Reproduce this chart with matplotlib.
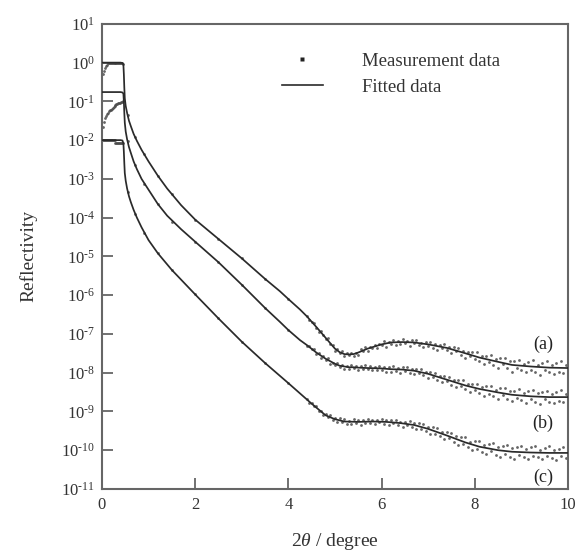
import numpy as np
import matplotlib
matplotlib.use('Agg')
import matplotlib.pyplot as plt
from matplotlib.ticker import FixedLocator, FuncFormatter, NullLocator
from matplotlib.lines import Line2D

plt.rcParams['font.family'] = ['Liberation Serif', 'DejaVu Serif']
plt.rcParams['mathtext.fontset'] = 'custom'
plt.rcParams['mathtext.rm'] = 'Liberation Serif'
plt.rcParams['mathtext.it'] = 'Liberation Serif:italic'

# ---------------- fitted curves (2theta in degree, log10 reflectivity) -------------
fit_a_x = [0.02, 0.10, 0.20, 0.30, 0.40, 0.44, 0.46, 0.47, 0.48, 0.49, 0.51, 0.54, 0.58, 0.62,
           0.68, 0.75, 0.85, 1.00, 1.20, 1.40, 1.70, 2.00, 2.50, 3.00, 3.50, 3.82, 4.00, 4.25,
           4.40, 4.60, 4.80, 5.00, 5.10, 5.20, 5.30, 5.40, 5.50, 5.70, 6.00, 6.20, 6.45, 6.70,
           7.00, 7.40, 7.80, 8.10, 8.50, 8.80, 9.20, 9.60, 10.0]
fit_a_log = [0, 0, 0, 0, 0, -0.01, -0.05, -0.30, -0.65, -0.92, -1.12, -1.30, -1.50, -1.64,
             -1.84, -2.02, -2.25, -2.55, -2.92, -3.25, -3.68, -4.05, -4.55, -5.05, -5.58, -5.90,
             -6.10, -6.37, -6.55, -6.82, -7.10, -7.38, -7.47, -7.52, -7.53, -7.52, -7.48, -7.38,
             -7.27, -7.22, -7.21, -7.22, -7.27, -7.36, -7.50, -7.61, -7.72, -7.80, -7.84, -7.87,
             -7.88]

fit_b_x = [0.02, 0.10, 0.20, 0.30, 0.40, 0.44, 0.46, 0.47, 0.48, 0.49, 0.51, 0.54, 0.58, 0.62,
           0.68, 0.75, 0.85, 1.00, 1.20, 1.40, 1.70, 2.00, 2.50, 3.00, 3.50, 3.82, 4.00, 4.25,
           4.40, 4.60, 4.80, 5.00, 5.10, 5.20, 5.30, 5.40, 5.50, 5.70, 6.00, 6.20, 6.45, 6.70,
           7.00, 7.40, 7.80, 8.10, 8.50, 8.80, 9.20, 9.60, 10.0]
fit_b_log = [-0.76, -0.76, -0.76, -0.76, -0.76, -0.77, -0.80, -1.00, -1.30, -1.55, -1.78,
             -1.98, -2.18, -2.33, -2.55, -2.75, -3.00, -3.28, -3.65, -3.95, -4.30, -4.62, -5.15,
             -5.73, -6.33, -6.69, -6.90, -7.16, -7.29, -7.48, -7.64, -7.77, -7.82, -7.84, -7.86,
             -7.86, -7.87, -7.88, -7.89, -7.91, -7.92, -7.95, -8.03, -8.18, -8.33, -8.42, -8.51,
             -8.57, -8.61, -8.63, -8.63]

fit_c_x = [0.02, 0.10, 0.20, 0.30, 0.40, 0.44, 0.46, 0.47, 0.48, 0.49, 0.51, 0.54, 0.58, 0.62,
           0.68, 0.75, 0.85, 1.00, 1.20, 1.50, 2.00, 2.50, 3.00, 3.50, 4.00, 4.50, 4.80, 5.00,
           5.20, 5.50, 5.80, 6.10, 6.40, 6.70, 7.00, 7.40, 7.80, 8.10, 8.50, 8.80, 9.20, 9.60,
           10.0]
fit_c_log = [-2.0, -2.0, -2.0, -2.0, -2.0, -2.01, -2.08, -2.30, -2.60, -2.85, -3.05, -3.25,
             -3.45, -3.60, -3.80, -4.00, -4.25, -4.58, -4.92, -5.35, -5.98, -6.60, -7.20, -7.75,
             -8.27, -8.80, -9.10, -9.20, -9.26, -9.27, -9.26, -9.27, -9.30, -9.35, -9.45, -9.62,
             -9.80, -9.91, -10.00, -10.04, -10.06, -10.07, -10.07]

# ---------------- measurement data -------------
lo_x = [0.03, 0.05, 0.07, 0.09, 0.11, 0.13, 0.15, 0.17, 0.19, 0.21, 0.23, 0.25, 0.27, 0.29,
        0.31, 0.33, 0.35, 0.37, 0.39, 0.41, 0.43, 0.45]
mid_x = [0.55, 0.70, 0.90, 1.20, 1.50, 2.00, 2.50, 3.00, 3.50, 4.00]
hi_x0, hi_dx = 4.40, 0.05   # scan start and step of the high-angle part

meas_a_lo = [-0.30, -0.22, -0.15, -0.09, -0.05, -0.02, -0.01, 0, 0, 0, 0, 0, 0, 0, 0, 0, 0, 0,
             0, 0, -0.01, -0.03]
meas_a_mid = [-1.35, -1.92, -2.35, -2.92, -3.38, -4.05, -4.55, -5.05, -5.58, -6.10]
meas_a_hi = [-6.53, -6.65, -6.68, -6.71, -6.84, -6.94, -6.93, -7.03, -7.14, -7.11,
             -7.26, -7.29, -7.43, -7.39, -7.48, -7.45, -7.58, -7.50, -7.55, -7.49,
             -7.56, -7.48, -7.54, -7.40, -7.44, -7.34, -7.43, -7.34, -7.37, -7.28,
             -7.36, -7.25, -7.29, -7.19, -7.33, -7.20, -7.26, -7.16, -7.28, -7.19,
             -7.26, -7.13, -7.24, -7.17, -7.30, -7.16, -7.24, -7.16, -7.29, -7.23,
             -7.35, -7.20, -7.31, -7.20, -7.36, -7.27, -7.41, -7.28, -7.37, -7.25,
             -7.42, -7.34, -7.50, -7.34, -7.45, -7.36, -7.55, -7.43, -7.62, -7.46,
             -7.58, -7.46, -7.64, -7.47, -7.70, -7.58, -7.78, -7.57, -7.72, -7.55,
             -7.79, -7.65, -7.87, -7.62, -7.78, -7.62, -7.89, -7.71, -7.98, -7.70,
             -7.87, -7.67, -7.93, -7.78, -7.99, -7.72, -7.92, -7.68, -7.98, -7.79,
             -8.06, -7.75, -7.93, -7.71, -7.99, -7.79, -8.04, -7.74, -7.97, -7.70,
             -8.02, -7.81, -7.99]

meas_b_lo = [-1.66, -1.52, -1.44, -1.38, -1.33, -1.29, -1.26, -1.23, -1.21, -1.19, -1.16,
             -1.14, -1.12, -1.10, -1.08, -1.07, -1.05, -1.04, -1.03, -1.02, -1.01, -1.00]
meas_b_mid = [-2.02, -2.63, -3.13, -3.65, -4.10, -4.62, -5.15, -5.73, -6.33, -6.90]
meas_b_hi = [-7.32, -7.30, -7.40, -7.38, -7.52, -7.50, -7.62, -7.57, -7.66, -7.63,
             -7.77, -7.74, -7.81, -7.74, -7.85, -7.79, -7.90, -7.83, -7.91, -7.80,
             -7.88, -7.83, -7.94, -7.84, -7.91, -7.81, -7.91, -7.83, -7.94, -7.86,
             -7.94, -7.82, -7.92, -7.85, -7.98, -7.86, -7.97, -7.84, -7.95, -7.89,
             -8.00, -7.86, -7.96, -7.85, -8.00, -7.90, -8.04, -7.91, -8.02, -7.91,
             -8.07, -7.98, -8.13, -7.99, -8.12, -8.00, -8.19, -8.08, -8.25, -8.09,
             -8.21, -8.10, -8.31, -8.19, -8.38, -8.19, -8.34, -8.20, -8.43, -8.28,
             -8.49, -8.28, -8.45, -8.28, -8.52, -8.38, -8.59, -8.35, -8.54, -8.34,
             -8.60, -8.44, -8.68, -8.40, -8.57, -8.39, -8.68, -8.48, -8.73, -8.46,
             -8.66, -8.41, -8.71, -8.53, -8.79, -8.47, -8.68, -8.45, -8.76, -8.53,
             -8.80, -8.50, -8.69, -8.46, -8.76, -8.56, -8.79, -8.49, -8.73, -8.44,
             -8.75, -8.55, -8.77]

meas_c_lo = [-2.0, -2.0, -2.0, -2.0, -2.0, -2.0, -2.0, -2.0, -2.0, -2.0, -2.0, -2.0, -2.0,
             -2.07, -2.07, -2.07, -2.07, -2.07, -2.07, -2.07, -2.07, -2.07]
meas_c_mid = [-3.35, -3.90, -4.40, -4.92, -5.35, -5.98, -6.60, -7.20, -7.75, -8.27]
meas_c_hi = [-8.67, -8.79, -8.77, -8.87, -8.85, -8.98, -8.99, -9.10, -9.06, -9.15,
             -9.09, -9.22, -9.17, -9.28, -9.18, -9.28, -9.20, -9.32, -9.25, -9.33,
             -9.20, -9.30, -9.23, -9.34, -9.22, -9.30, -9.20, -9.31, -9.23, -9.33,
             -9.21, -9.28, -9.20, -9.33, -9.23, -9.36, -9.22, -9.31, -9.21, -9.36,
             -9.26, -9.40, -9.26, -9.36, -9.24, -9.41, -9.30, -9.46, -9.31, -9.45,
             -9.33, -9.51, -9.41, -9.58, -9.41, -9.57, -9.43, -9.64, -9.53, -9.72,
             -9.53, -9.68, -9.56, -9.79, -9.64, -9.86, -9.66, -9.84, -9.67, -9.93,
             -9.78, -9.99, -9.76, -9.97, -9.76, -10.04, -9.86, -10.11, -9.84, -10.02,
             -9.82, -10.12, -9.91, -10.18, -9.88, -10.09, -9.86, -10.17, -9.94, -10.23,
             -9.92, -10.13, -9.89, -10.18, -9.98, -10.23, -9.92, -10.16, -9.88, -10.18,
             -10.00, -10.23, -9.94, -10.16, -9.90, -10.21, -9.99, -10.25, -9.96, -10.14,
             -9.92, -10.19, -9.98]

curve_labels = ['(a)', '(b)', '(c)']
label_x = 9.46
label_log = [-7.28, -9.30, -10.69]

ytick_exp = list(range(-11, 2))
xticks = [0, 2, 4, 6, 8, 10]

# ---------------- figure -------------
fig = plt.figure(figsize=(5.76, 5.55), dpi=100)
ax = fig.add_axes([0.177, 0.119, 0.809, 0.838])

line_col = '#2a2a2a'
dot_col = '#4a4a4a'
spine_col = '#666666'

def meas_series(lo, mid, hi):
    hx = hi_x0 + hi_dx * np.arange(len(hi))
    x = np.concatenate([lo_x, mid_x, hx])
    y = np.power(10.0, np.concatenate([lo, mid, hi]))
    return x, y

for lo, mid, hi in [(meas_a_lo, meas_a_mid, meas_a_hi),
                    (meas_b_lo, meas_b_mid, meas_b_hi),
                    (meas_c_lo, meas_c_mid, meas_c_hi)]:
    mx, my = meas_series(lo, mid, hi)
    ax.plot(mx, my, linestyle='none', marker='o', markersize=2.0,
            markerfacecolor=dot_col, markeredgecolor='none', alpha=0.85, zorder=2)

for fx, fl in [(fit_a_x, fit_a_log), (fit_b_x, fit_b_log), (fit_c_x, fit_c_log)]:
    ax.plot(fx, np.power(10.0, fl), color=line_col, linewidth=1.25, zorder=3)

for lab, ll in zip(curve_labels, label_log):
    ax.text(label_x, 10.0 ** ll, lab, ha='center', va='center', fontsize=13, color='#222222')

ax.set_yscale('log')
ax.set_xlim(0, 10)
ax.set_ylim(1e-11, 1e1)
ax.yaxis.set_major_locator(FixedLocator([10.0 ** k for k in ytick_exp]))
ax.yaxis.set_minor_locator(NullLocator())

def fmt_pow(v, p):
    e = int(round(np.log10(v)))
    s = str(abs(e))
    if e < 0:
        s = '\u2010' + s
    return r'$\mathregular{10^{%s}}$' % s

ax.yaxis.set_major_formatter(FuncFormatter(fmt_pow))
ax.set_xticks(xticks)
ax.set_xticklabels([str(t) for t in xticks])

for s in ax.spines.values():
    s.set_color(spine_col)
    s.set_linewidth(1.5)
ax.tick_params(axis='both', which='major', direction='in', length=8, width=1.3,
               color=spine_col, labelsize=12, labelcolor='#333333', top=False, right=False)
ax.tick_params(axis='x', pad=6)
ax.tick_params(axis='y', pad=5)

ax.set_ylabel('Reflectivity', fontsize=14, color='#333333', labelpad=17)
ax.set_xlabel(r'2$\theta$ / degree', fontsize=14, color='#333333', labelpad=13)

handles = [Line2D([], [], linestyle='none', marker='s', markersize=3.2,
                  markerfacecolor='#222222', markeredgecolor='none'),
           Line2D([], [], color=line_col, linewidth=1.2)]
ax.legend(handles, ['Measurement data', 'Fitted data'], loc='upper left',
          bbox_to_anchor=(0.386, 0.938), frameon=False, fontsize=13.5,
          handlelength=2.2, handletextpad=2.1, labelspacing=0.46,
          borderpad=0, borderaxespad=0, labelcolor='#333333')

fig.savefig('out.png', dpi=100)
